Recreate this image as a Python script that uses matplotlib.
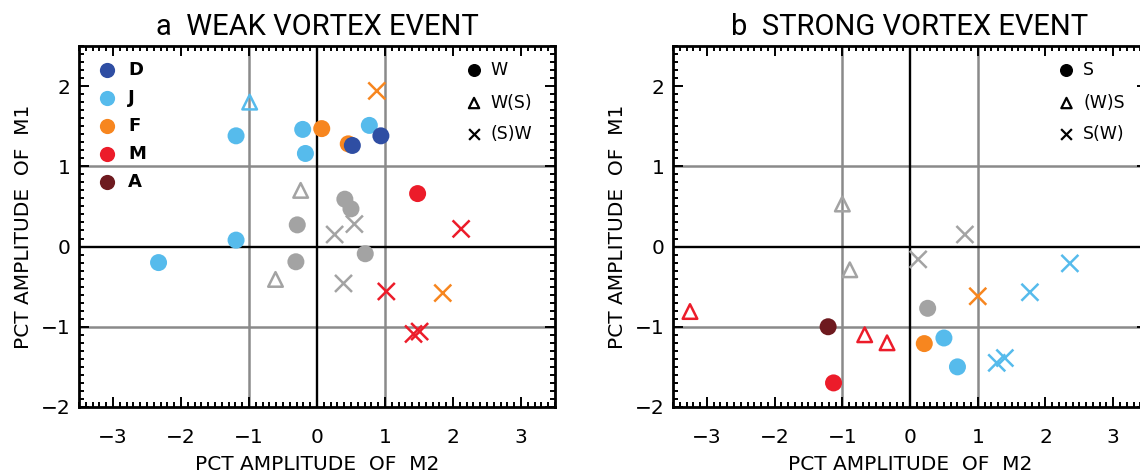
#!/usr/bin/env python3

import matplotlib
matplotlib.use('Agg')
import matplotlib.pyplot as plt
from matplotlib.ticker import MultipleLocator

# colours per month, grey for the non-month points
month_keys = ['D', 'J', 'F', 'M', 'A']
month_colors = {'D': '#2f4ea3', 'J': '#56bbec', 'F': '#f7861f',
                'M': '#ec1c2a', 'A': '#6e1a1f', 'G': '#a3a3a3'}

# panel a: weak vortex event
a_circle_x = [-1.19, -0.21, 0.07, 0.77, 0.94, 0.46, 0.52, -0.17, 1.48, 0.41, 0.50, -0.29, -1.19, -2.33, -0.31, 0.71]
a_circle_y = [1.38, 1.46, 1.47, 1.51, 1.38, 1.28, 1.26, 1.16, 0.66, 0.59, 0.47, 0.27, 0.08, -0.20, -0.19, -0.09]
a_circle_m = ['J', 'J', 'F', 'J', 'D', 'F', 'D', 'J', 'M', 'G', 'G', 'G', 'J', 'J', 'G', 'G']

a_tri_x = [-0.99, -0.24, -0.61]
a_tri_y = [1.80, 0.70, -0.41]
a_tri_m = ['J', 'G', 'G']

a_cross_x = [0.88, 0.55, 0.26, 2.12, 0.39, 1.02, 1.85, 1.42, 1.51]
a_cross_y = [1.94, 0.28, 0.15, 0.22, -0.46, -0.56, -0.58, -1.09, -1.06]
a_cross_m = ['F', 'G', 'G', 'M', 'G', 'M', 'F', 'M', 'M']

# panel b: strong vortex event
b_circle_x = [0.26, -1.21, 0.21, 0.50, 0.70, -1.13]
b_circle_y = [-0.77, -1.00, -1.21, -1.14, -1.50, -1.70]
b_circle_m = ['G', 'A', 'F', 'J', 'J', 'M']

b_tri_x = [-1.00, -0.89, -3.25, -0.67, -0.34]
b_tri_y = [0.53, -0.29, -0.81, -1.10, -1.20]
b_tri_m = ['G', 'G', 'M', 'M', 'M']

b_cross_x = [0.81, 0.12, 2.36, 1.77, 1.00, 1.28, 1.40]
b_cross_y = [0.15, -0.16, -0.21, -0.57, -0.62, -1.45, -1.39]
b_cross_m = ['G', 'G', 'J', 'J', 'F', 'J', 'J']

a_types = ['W', 'W(S)', '(S)W']
b_types = ['S', '(W)S', 'S(W)']

x_ticks = [-3, -2, -1, 0, 1, 2, 3]
y_ticks = [-2, -1, 0, 1, 2]


def draw_panel(ax, title, circles, tris, crosses, types, month_legend):
    ax.set_xlim(-3.5, 3.5)
    ax.set_ylim(-2, 2.5)

    # reference lines
    for v in (-1, 1):
        ax.axvline(v, color='#8a8a8a', lw=1.8, zorder=1)
        ax.axhline(v, color='#8a8a8a', lw=1.8, zorder=1)
    ax.axvline(0, color='black', lw=1.7, zorder=1)
    ax.axhline(0, color='black', lw=1.7, zorder=1)

    cx, cy, cm = crosses
    ax.scatter(cx, cy, marker='x', s=150, linewidths=1.8,
               c=[month_colors[m] for m in cm], zorder=3)
    tx, ty, tm = tris
    ax.scatter(tx, ty, marker='^', s=110, linewidths=1.8, facecolors='none',
               edgecolors=[month_colors[m] for m in tm], zorder=3)
    ox, oy, om = circles
    ax.scatter(ox, oy, marker='o', s=150, linewidths=0,
               c=[month_colors[m] for m in om], zorder=4)

    ax.set_xticks(x_ticks)
    ax.set_yticks(y_ticks)
    ax.xaxis.set_minor_locator(MultipleLocator(0.1))
    ax.yaxis.set_minor_locator(MultipleLocator(0.1))
    ax.tick_params(which='both', direction='in', top=True, right=True, width=1.4)
    ax.tick_params(which='major', length=7)
    ax.tick_params(which='minor', length=3.5)
    ax.tick_params(axis='x', which='major', labelsize=14.5, pad=15)
    ax.tick_params(axis='y', which='major', labelsize=14.5, pad=6)
    for sp in ax.spines.values():
        sp.set_linewidth(2.0)

    ax.set_xlabel('PCT AMPLITUDE  OF  M2', fontsize=14.5, labelpad=6)
    ax.set_ylabel('PCT AMPLITUDE  OF  M1', fontsize=14.5, labelpad=6)
    ax.set_title(title, fontsize=21, pad=8, family=['Roboto', 'DejaVu Sans'])

    # marker type legend, top right
    lx = 0.83
    rows = [0.934, 0.842, 0.756]
    ax.scatter([lx], [rows[0]], marker='o', s=70, c='black', transform=ax.transAxes, zorder=5)
    ax.scatter([lx], [rows[1]], marker='^', s=55, facecolors='none', edgecolors='black',
               linewidths=1.6, transform=ax.transAxes, zorder=5)
    ax.scatter([lx], [rows[2]], marker='x', s=60, c='black', linewidths=1.6,
               transform=ax.transAxes, zorder=5)
    for r, t in zip(rows, types):
        ax.text(lx + 0.035, r, t, fontsize=12.5, va='center', ha='left', transform=ax.transAxes)

    # month legend, top left
    if month_legend:
        for i, m in enumerate(month_keys):
            r = 0.934 - i * 0.0775
            ax.scatter([0.059], [r], marker='o', s=120, c=month_colors[m], linewidths=0,
                       transform=ax.transAxes, zorder=5)
            ax.text(0.103, r, m, fontsize=13, fontweight='bold', va='center', ha='left',
                    transform=ax.transAxes)


fig = plt.figure(figsize=(11.4, 4.74), dpi=100)
ax_a = fig.add_axes([0.0693, 0.1414, 0.4175, 0.7616])
ax_b = fig.add_axes([0.5904, 0.1414, 0.4158, 0.7616])

draw_panel(ax_a, 'a  WEAK VORTEX EVENT',
           (a_circle_x, a_circle_y, a_circle_m),
           (a_tri_x, a_tri_y, a_tri_m),
           (a_cross_x, a_cross_y, a_cross_m),
           a_types, True)
draw_panel(ax_b, 'b  STRONG VORTEX EVENT',
           (b_circle_x, b_circle_y, b_circle_m),
           (b_tri_x, b_tri_y, b_tri_m),
           (b_cross_x, b_cross_y, b_cross_m),
           b_types, False)

fig.savefig('out.png', dpi=100)
